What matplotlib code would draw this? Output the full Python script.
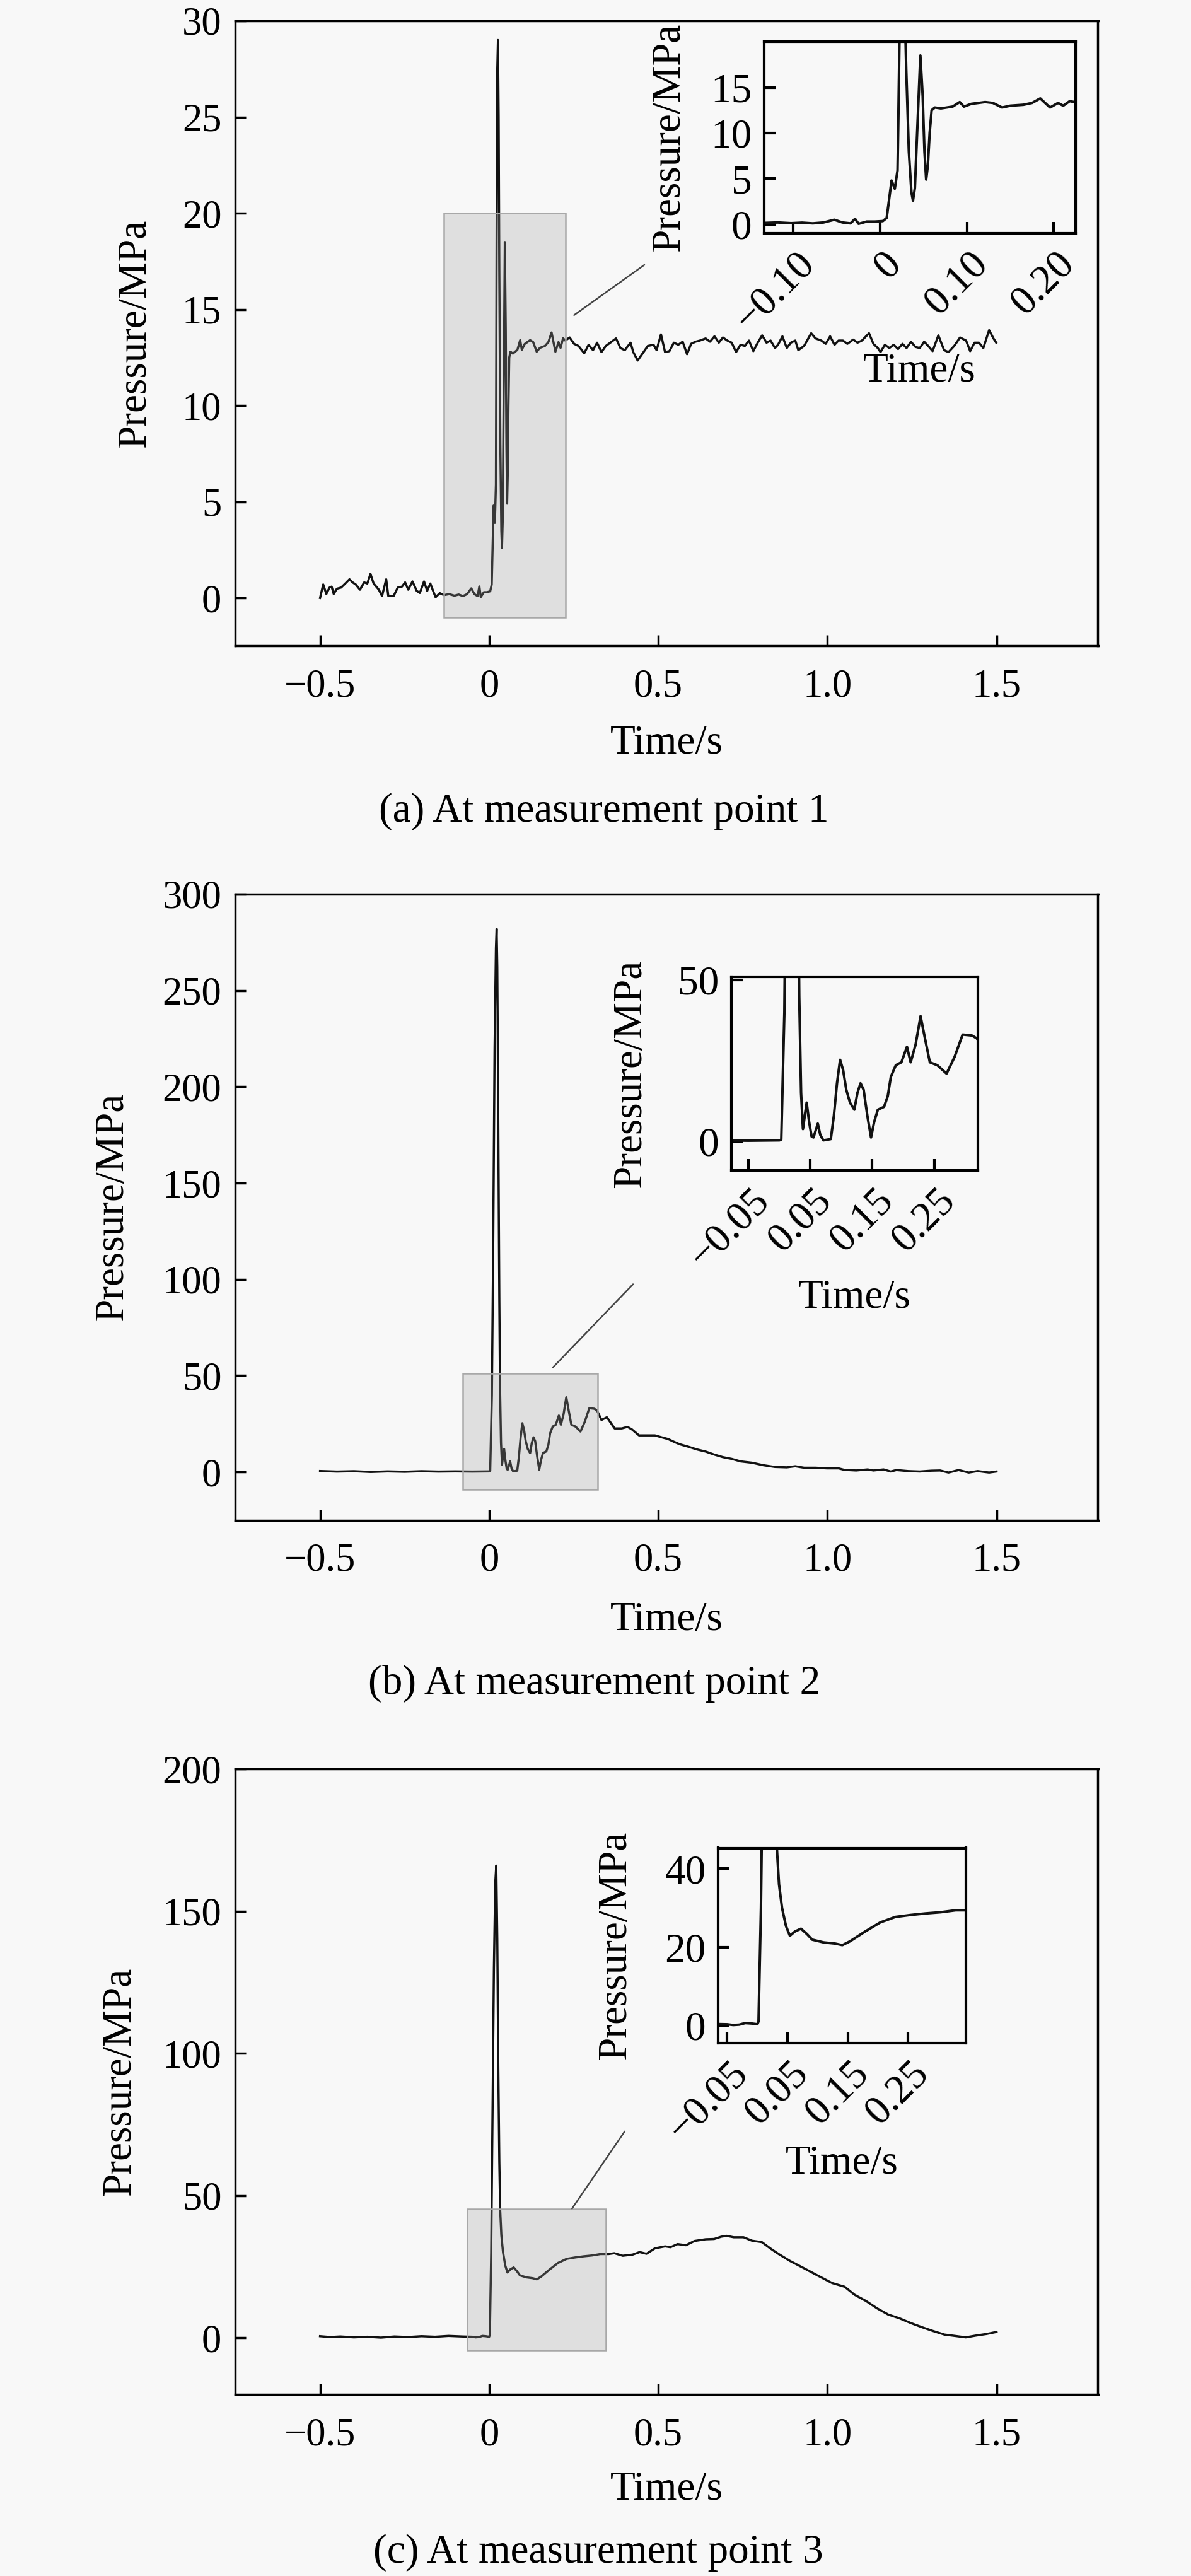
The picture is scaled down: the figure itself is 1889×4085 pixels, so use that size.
import matplotlib
matplotlib.use('Agg')
import matplotlib.pyplot as plt
from matplotlib.patches import Rectangle, ConnectionPatch
from matplotlib.transforms import ScaledTranslation

plt.rcParams['font.family'] = ['Liberation Serif', 'DejaVu Serif']
plt.rcParams['axes.unicode_minus'] = True

# ---------------- data ----------------
# (a) measurement point 1
time_a = [-0.5, -0.4907, -0.4814, -0.4721, -0.4658, -0.4596, -0.4503, -0.4379, -0.4255, -0.4131,
          -0.4037, -0.3944, -0.382, -0.3696, -0.3603, -0.351, -0.3416, -0.3261, -0.3168, -0.3044,
          -0.2982, -0.2826, -0.2702, -0.2578, -0.2485, -0.2392, -0.2268, -0.2143, -0.205, -0.1926,
          -0.1833, -0.174, -0.1647, -0.1584, -0.146, -0.1336, -0.1181, -0.1026, -0.0901, -0.0777,
          -0.0653, -0.0529, -0.0436, -0.0342, -0.029, -0.0249, -0.0156, -0.0063, 0.003, 0.0075,
          0.0131, 0.0168, 0.020, 0.021, 0.0225, 0.024, 0.026, 0.028, 0.030, 0.033,
          0.036, 0.0378, 0.040, 0.043, 0.0463, 0.049, 0.051, 0.053, 0.055, 0.057,
          0.0593, 0.063, 0.070, 0.0835, 0.0917, 0.0965, 0.105, 0.121, 0.130, 0.1405,
          0.150, 0.165, 0.175, 0.1845, 0.1958, 0.205, 0.211, 0.2185, 0.225, 0.238,
          0.251, 0.264, 0.281, 0.294, 0.307, 0.319, 0.332, 0.345, 0.358, 0.375,
          0.388, 0.401, 0.418, 0.426, 0.439, 0.452, 0.469, 0.486, 0.495, 0.508,
          0.520, 0.533, 0.546, 0.559, 0.572, 0.585, 0.597, 0.610, 0.623, 0.640,
          0.653, 0.666, 0.679, 0.691, 0.704, 0.717, 0.730, 0.743, 0.756, 0.768,
          0.781, 0.794, 0.807, 0.820, 0.832, 0.845, 0.854, 0.867, 0.880, 0.892,
          0.905, 0.914, 0.931, 0.952, 0.965, 0.982, 0.995, 1.008, 1.021, 1.033,
          1.046, 1.059, 1.076, 1.089, 1.102, 1.123, 1.136, 1.149, 1.157, 1.170,
          1.183, 1.196, 1.209, 1.222, 1.234, 1.247, 1.260, 1.273, 1.286, 1.298,
          1.311, 1.328, 1.345, 1.358, 1.375, 1.392, 1.410, 1.422, 1.435, 1.448,
          1.461, 1.478, 1.491, 1.499]
pressure_a = [0.0, 0.70, 0.21, 0.54, 0.59, 0.21, 0.48, 0.54, 0.75, 0.97,
              0.81, 0.70, 0.43, 0.81, 0.75, 1.25, 0.75, 0.43, 0.10, 0.97,
              0.10, 0.10, 0.54, 0.59, 0.81, 0.43, 0.86, 0.37, 0.26, 0.86,
              0.37, 0.75, 0.32, 0.04, 0.25, 0.15, 0.20, 0.12, 0.18, 0.10,
              0.20, 0.50, 0.20, 0.10, 0.60, 0.05, 0.30, 0.30, 0.35, 0.7,
              4.8, 3.9, 5.9, 12.0, 22.0, 27.5, 29.0, 25.0, 17.0, 8.0,
              3.5, 2.6, 4.0, 11.0, 18.5, 14.0, 8.0, 4.9, 6.5, 10.0,
              12.5, 12.8, 12.7, 12.9, 13.4, 12.9, 13.2, 13.4, 13.3, 12.8,
              13.0, 13.1, 13.3, 13.8, 12.8, 13.3, 13.0, 13.5, 13.38, 13.54,
              13.21, 13.10, 12.72, 13.16, 12.88, 13.27, 12.78, 13.10, 13.27, 13.49,
              12.99, 12.88, 13.27, 12.78, 12.34, 12.67, 13.10, 13.16, 12.88, 13.70,
              12.78, 12.83, 13.27, 13.16, 13.32, 12.67, 13.21, 13.32, 13.38, 13.49,
              13.32, 13.60, 13.27, 13.54, 13.38, 13.27, 12.78, 13.16, 13.10, 13.38,
              12.83, 13.27, 13.65, 13.27, 13.38, 12.99, 13.16, 13.60, 12.99, 13.27,
              13.38, 12.88, 13.10, 13.76, 13.49, 13.38, 13.21, 13.60, 13.16, 13.38,
              13.38, 13.21, 13.43, 13.27, 13.38, 13.76, 13.21, 12.99, 12.78, 13.16,
              12.99, 13.16, 12.94, 13.21, 12.99, 13.32, 13.05, 12.99, 13.32, 13.10,
              12.83, 13.65, 12.88, 12.78, 13.10, 13.54, 13.38, 12.83, 13.27, 13.27,
              12.99, 13.92, 13.49, 13.27]

# (b) measurement point 2
time_b = [-0.5, -0.45, -0.4, -0.35, -0.3, -0.25, -0.2, -0.15, -0.1, -0.05,
          0.0, 0.003, 0.008, 0.012, 0.016, 0.020, 0.022, 0.024, 0.027, 0.030,
          0.032, 0.035, 0.038, 0.041, 0.044, 0.048, 0.052, 0.055, 0.058, 0.062,
          0.066, 0.071, 0.077, 0.083, 0.088, 0.093, 0.098, 0.103, 0.108, 0.114,
          0.121, 0.126, 0.131, 0.136, 0.142, 0.148, 0.153, 0.159, 0.169, 0.175,
          0.180, 0.188, 0.197, 0.206, 0.212, 0.220, 0.228, 0.235, 0.243, 0.255,
          0.270, 0.283, 0.296, 0.311, 0.319, 0.332, 0.348, 0.371, 0.392, 0.409,
          0.422, 0.443, 0.469, 0.490, 0.512, 0.529, 0.546, 0.563, 0.589, 0.614,
          0.640, 0.666, 0.691, 0.717, 0.743, 0.777, 0.811, 0.845, 0.880, 0.905,
          0.931, 0.965, 0.999, 1.033, 1.050, 1.085, 1.119, 1.136, 1.166, 1.187,
          1.204, 1.239, 1.273, 1.307, 1.333, 1.358, 1.388, 1.418, 1.444, 1.478,
          1.500]
pressure_b = [0.5, 0.2, 0.4, 0.0, 0.3, 0.1, 0.4, 0.2, 0.3, 0.2,
              0.3, 0.5, 40.0, 120.0, 220.0, 272.0, 282.0, 262.0, 180.0, 90.0,
              45.0, 15.0, 3.8, 8.0, 12.0, 6.0, 1.5, 1.2, 3.0, 5.5,
              2.0, 0.3, 0.5, 0.7, 8.0, 18.0, 25.3, 22.0, 16.0, 12.0,
              9.8, 15.0, 18.0, 16.0, 8.0, 1.2, 6.0, 9.8, 10.7, 14.0,
              20.0, 23.6, 24.5, 29.3, 24.5, 30.0, 38.8, 32.0, 24.5, 23.6,
              21.0, 26.2, 33.1, 32.8, 31.9, 27.0, 28.4, 22.6, 22.6, 23.4,
              22.1, 19.0, 19.0, 19.0, 17.9, 17.1, 15.7, 14.4, 13.1, 11.7,
              10.6, 9.0, 7.7, 6.8, 5.5, 4.8, 3.5, 2.6, 2.4, 2.97,
              2.2, 2.2, 1.87, 1.87, 1.1, 0.78, 1.33, 0.78, 1.33, 0.24,
              1.0, 0.46, 0.24, 0.67, 0.78, -0.3, 1.0, -0.3, 0.46, -0.3,
              0.24]

# (c) measurement point 3
time_c = [-0.5, -0.47, -0.44, -0.4, -0.36, -0.32, -0.28, -0.24, -0.2, -0.16,
          -0.12, -0.08, -0.05, -0.04, -0.03, -0.02, -0.01, 0.0, 0.002, 0.006,
          0.010, 0.014, 0.018, 0.021, 0.024, 0.027, 0.030, 0.0325, 0.036, 0.041,
          0.0475, 0.054, 0.0625, 0.0725, 0.0825, 0.091, 0.110, 0.129, 0.141, 0.154,
          0.179, 0.204, 0.229, 0.254, 0.279, 0.304, 0.329, 0.353, 0.370, 0.395,
          0.424, 0.445, 0.465, 0.490, 0.520, 0.536, 0.557, 0.582, 0.607, 0.640,
          0.665, 0.686, 0.702, 0.723, 0.752, 0.777, 0.806, 0.831, 0.856, 0.889,
          0.931, 0.972, 1.014, 1.051, 1.080, 1.114, 1.147, 1.180, 1.213, 1.247,
          1.280, 1.313, 1.346, 1.380, 1.409, 1.438, 1.471, 1.500]
pressure_c = [0.5, 0.2, 0.4, 0.1, 0.3, 0.0, 0.4, 0.2, 0.5, 0.3,
              0.6, 0.4, 0.3, 0.1, 0.2, 0.6, 0.5, 0.3, 1.0, 30.0,
              80.0, 130.0, 160.0, 166.0, 140.0, 95.0, 62.0, 45.0, 36.0, 30.0,
              25.4, 22.9, 24.0, 24.7, 23.3, 21.9, 21.2, 20.9, 20.5, 21.5,
              24.0, 26.3, 27.7, 28.2, 28.6, 28.9, 29.4, 29.4, 29.7, 28.8,
              29.2, 30.1, 29.5, 31.4, 32.1, 31.8, 32.9, 32.5, 34.0, 34.6,
              34.7, 35.5, 35.8, 35.3, 35.3, 34.1, 33.6, 31.4, 29.4, 27.0,
              24.4, 21.8, 19.2, 17.9, 15.1, 12.9, 10.3, 8.1, 6.8, 5.1,
              3.65, 2.3, 1.07, 0.55, 0.1, 0.7, 1.29, 2.0]

# axis ticks / labels
main_xticks = [-0.5, 0.0, 0.5, 1.0, 1.5]
main_xticklabels = ['\u22120.5', '0', '0.5', '1.0', '1.5']
yticks_a = [0, 5, 10, 15, 20, 25, 30]
yticks_b = [0, 50, 100, 150, 200, 250, 300]
yticks_c = [0, 50, 100, 150, 200]
ylim_a = [-2.5, 30]
ylim_b = [-25, 300]
ylim_c = [-20, 200]

# zoom windows (x0, x1, y0, y1) shown in the insets
zoom_a = [-0.134, 0.225, -1.0, 20.0]
zoom_b = [-0.078, 0.321, -9.0, 51.0]
zoom_c = [-0.065, 0.346, -4.5, 45.3]

inset_xticks_a = [-0.10, 0.0, 0.10, 0.20]
inset_xticklabels_a = ['\u22120.10', '0', '0.10', '0.20']
inset_xticks_bc = [-0.05, 0.05, 0.15, 0.25]
inset_xticklabels_bc = ['\u22120.05', '0.05', '0.15', '0.25']
inset_yticks_a = [0, 5, 10, 15]
inset_yticks_b = [0, 50]
inset_yticks_c = [0, 20, 40]

captions = ['(a) At measurement point 1', '(b) At measurement point 2', '(c) At measurement point 3']

# ---------------- drawing ----------------
BG = '#f8f8f8'
W, H = 1890, 4085
fig = plt.figure(figsize=(W / 100, H / 100), dpi=100, facecolor=BG)


def fr(l, t, r, b):
    return [l / W, 1 - b / H, (r - l) / W, (b - t) / H]


def style(ax, lw, tl, fs, xpad, ypad):
    ax.set_facecolor(BG)
    for s in ax.spines.values():
        s.set_linewidth(lw)
        s.set_color('black')
    ax.tick_params(direction='in', length=tl, width=lw, labelsize=fs,
                   top=False, right=False, colors='black')
    ax.tick_params(axis='x', pad=xpad)
    ax.tick_params(axis='y', pad=ypad)


def panel(main_box, inset_box, t, p, yticks, ylim, zoom, ixt, ixl, iyt,
          ylab_x, xlab_y, iylab_x, ixlab_y, cstart, cend, caption, cap_xy):
    ax = fig.add_axes(fr(*main_box))
    style(ax, 2.5, 12, 45, 26, 16)
    ax.plot(t, p, color='#111111', lw=2.5, zorder=2)
    ax.set_xlim(-0.75, 1.80)
    ax.set_ylim(*ylim)
    ax.set_xticks(main_xticks)
    ax.set_xticklabels(main_xticklabels)
    ax.set_yticks(yticks)
    ax.set_yticklabels([str(v) for v in yticks])
    ax.set_xlabel('Time/s', fontsize=47)
    ax.set_ylabel('Pressure/MPa', fontsize=47)
    ax.xaxis.label.set_va('center')
    ax.yaxis.label.set_va('center')
    ax.xaxis.set_label_coords(0.5, xlab_y)
    ax.yaxis.set_label_coords(ylab_x, 0.5)
    x0, x1, y0, y1 = zoom
    ax.add_patch(Rectangle((x0, y0), x1 - x0, y1 - y0, facecolor=(0.62, 0.62, 0.62, 0.27),
                           edgecolor='#a8a8a8', lw=1.8, zorder=3))

    axi = fig.add_axes(fr(*inset_box))
    style(axi, 3.0, 13, 47, 28, 14)
    axi.plot(t, p, color='#111111', lw=2.9)
    axi.set_xlim(x0, x1)
    axi.set_ylim(y0, y1)
    axi.set_xticks(ixt)
    axi.set_xticklabels(ixl, rotation=45, ha='right', va='center', rotation_mode='anchor')
    shift = ScaledTranslation(0.24, 0.0, fig.dpi_scale_trans)
    for lab in axi.get_xticklabels():
        lab.set_transform(lab.get_transform() + shift)
    axi.set_yticks(iyt)
    axi.set_yticklabels([str(v) for v in iyt])
    axi.set_xlabel('Time/s', fontsize=47)
    axi.set_ylabel('Pressure/MPa', fontsize=47)
    axi.xaxis.label.set_va('center')
    axi.yaxis.label.set_va('center')
    axi.xaxis.set_label_coords(0.5, ixlab_y)
    axi.yaxis.set_label_coords(iylab_x, 0.5)

    con = ConnectionPatch(xyA=cstart, coordsA=ax.transData, xyB=cend, coordsB=axi.transAxes,
                          color='#444444', lw=1.8, zorder=5)
    fig.add_artist(con)
    fig.text(cap_xy[0], cap_xy[1], caption, fontsize=47, ha='center', va='center')


panel((373.5, 33, 1741.5, 1024.5), (1211.7, 66.3, 1705.6, 370.2), time_a, pressure_a,
      yticks_a, ylim_a, zoom_a, inset_xticks_a, inset_xticklabels_a, inset_yticks_a,
      -0.116, -0.156, -0.305, -0.72, (0.251, 14.7), (-0.384, -0.164), captions[0],
      (0.507, 1 - 1287 / H))
panel((373.5, 1417.8, 1741.5, 2410.6), (1159.6, 1549, 1551.4, 1856), time_b, pressure_b,
      yticks_b, ylim_b, zoom_b, inset_xticks_bc, inset_xticklabels_bc, inset_yticks_b,
      -0.143, -0.160, -0.406, -0.658, (0.188, 54.2), (-0.397, -0.588), captions[1],
      (0.499, 1 - 2670 / H))
panel((373.5, 2805.2, 1741.5, 3797.2), (1139, 2930.5, 1532, 3239.9), time_c, pressure_c,
      yticks_c, ylim_c, zoom_c, inset_xticks_bc, inset_xticklabels_bc, inset_yticks_c,
      -0.134, -0.152, -0.415, -0.62, (0.245, 45.4), (-0.377, -0.4525), captions[2],
      (0.502, 1 - 4048 / H))

fig.savefig('out.png', dpi=100, facecolor=BG)
